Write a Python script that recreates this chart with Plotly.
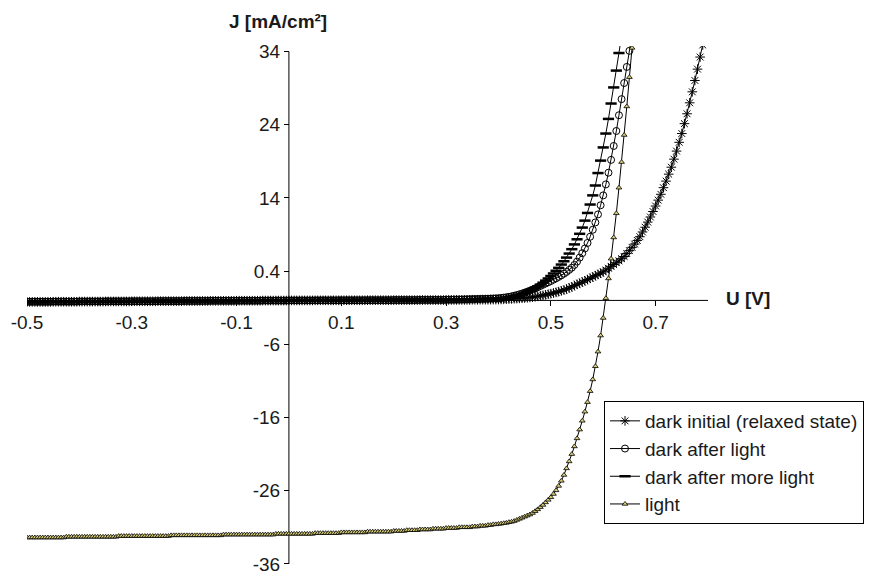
import plotly.graph_objects as go

# Voltage sweep (V), 5 mV steps
U = [
    -0.5, -0.495, -0.49, -0.485, -0.48, -0.475, -0.47, -0.465, -0.46, -0.455,
    -0.45, -0.445, -0.44, -0.435, -0.43, -0.425, -0.42, -0.415, -0.41, -0.405,
    -0.4, -0.395, -0.39, -0.385, -0.38, -0.375, -0.37, -0.365, -0.36, -0.355,
    -0.35, -0.345, -0.34, -0.335, -0.33, -0.325, -0.32, -0.315, -0.31, -0.305,
    -0.3, -0.295, -0.29, -0.285, -0.28, -0.275, -0.27, -0.265, -0.26, -0.255,
    -0.25, -0.245, -0.24, -0.235, -0.23, -0.225, -0.22, -0.215, -0.21, -0.205,
    -0.2, -0.195, -0.19, -0.185, -0.18, -0.175, -0.17, -0.165, -0.16, -0.155,
    -0.15, -0.145, -0.14, -0.135, -0.13, -0.125, -0.12, -0.115, -0.11, -0.105,
    -0.1, -0.095, -0.09, -0.085, -0.08, -0.075, -0.07, -0.065, -0.06, -0.055,
    -0.05, -0.045, -0.04, -0.035, -0.03, -0.025, -0.02, -0.015, -0.01, -0.005,
    0.0, 0.005, 0.01, 0.015, 0.02, 0.025, 0.03, 0.035, 0.04, 0.045,
    0.05, 0.055, 0.06, 0.065, 0.07, 0.075, 0.08, 0.085, 0.09, 0.095,
    0.1, 0.105, 0.11, 0.115, 0.12, 0.125, 0.13, 0.135, 0.14, 0.145,
    0.15, 0.155, 0.16, 0.165, 0.17, 0.175, 0.18, 0.185, 0.19, 0.195,
    0.2, 0.205, 0.21, 0.215, 0.22, 0.225, 0.23, 0.235, 0.24, 0.245,
    0.25, 0.255, 0.26, 0.265, 0.27, 0.275, 0.28, 0.285, 0.29, 0.295,
    0.3, 0.305, 0.31, 0.315, 0.32, 0.325, 0.33, 0.335, 0.34, 0.345,
    0.35, 0.355, 0.36, 0.365, 0.37, 0.375, 0.38, 0.385, 0.39, 0.395,
    0.4, 0.405, 0.41, 0.415, 0.42, 0.425, 0.43, 0.435, 0.44, 0.445,
    0.45, 0.455, 0.46, 0.465, 0.47, 0.475, 0.48, 0.485, 0.49, 0.495,
    0.5, 0.505, 0.51, 0.515, 0.52, 0.525, 0.53, 0.535, 0.54, 0.545,
    0.55, 0.555, 0.56, 0.565, 0.57, 0.575, 0.58, 0.585, 0.59, 0.595,
    0.6, 0.605, 0.61, 0.615, 0.62, 0.625, 0.63, 0.635, 0.64, 0.645,
    0.65, 0.655, 0.66, 0.665, 0.67, 0.675, 0.68, 0.685, 0.69, 0.695,
    0.7, 0.705, 0.71, 0.715, 0.72, 0.725, 0.73, 0.735, 0.74, 0.745,
    0.75, 0.755, 0.76, 0.765, 0.77, 0.775, 0.78, 0.785, 0.79, 0.795,
    0.8,
]

# Current density J (mA/cm2) for each measurement, one row per 50 mV
J_DARK_INITIAL = [
    -0.2, -0.2, -0.2, -0.2, -0.2, -0.2, -0.2, -0.2, -0.2, -0.2,
    -0.18, -0.18, -0.18, -0.18, -0.18, -0.18, -0.18, -0.18, -0.18, -0.18,
    -0.16, -0.16, -0.16, -0.16, -0.16, -0.16, -0.16, -0.16, -0.16, -0.16,
    -0.14, -0.14, -0.14, -0.14, -0.14, -0.14, -0.14, -0.14, -0.14, -0.14,
    -0.12, -0.12, -0.12, -0.12, -0.12, -0.12, -0.12, -0.12, -0.12, -0.12,
    -0.1, -0.1, -0.1, -0.1, -0.1, -0.1, -0.1, -0.1, -0.1, -0.1,
    -0.08, -0.08, -0.08, -0.08, -0.08, -0.08, -0.08, -0.08, -0.08, -0.08,
    -0.06, -0.06, -0.06, -0.06, -0.06, -0.06, -0.06, -0.06, -0.06, -0.06,
    -0.04, -0.04, -0.04, -0.04, -0.04, -0.04, -0.04, -0.04, -0.04, -0.04,
    -0.02, -0.02, -0.02, -0.02, -0.02, -0.02, -0.02, -0.02, -0.02, -0.02,
    0.0, 0.0, 0.0, 0.0, 0.0, 0.0, 0.0, 0.0, 0.0, 0.0,
    0.01, 0.01, 0.01, 0.01, 0.01, 0.01, 0.01, 0.01, 0.01, 0.01,
    0.02, 0.02, 0.02, 0.02, 0.02, 0.02, 0.02, 0.02, 0.02, 0.02,
    0.03, 0.03, 0.03, 0.03, 0.03, 0.03, 0.03, 0.03, 0.03, 0.03,
    0.04, 0.04, 0.04, 0.04, 0.04, 0.04, 0.04, 0.04, 0.04, 0.04,
    0.05, 0.05, 0.05, 0.05, 0.05, 0.05, 0.05, 0.05, 0.05, 0.05,
    0.07, 0.07, 0.07, 0.07, 0.07, 0.07, 0.07, 0.07, 0.07, 0.07,
    0.09, 0.09, 0.09, 0.1, 0.1, 0.1, 0.1, 0.11, 0.11, 0.11,
    0.12, 0.13, 0.15, 0.17, 0.19, 0.21, 0.23, 0.25, 0.28, 0.3,
    0.33, 0.36, 0.4, 0.45, 0.5, 0.56, 0.62, 0.69, 0.76, 0.84,
    0.92, 1.01, 1.1, 1.2, 1.3, 1.42, 1.55, 1.7, 1.85, 2.02,
    2.2, 2.35, 2.5, 2.68, 2.85, 3.02, 3.2, 3.38, 3.55, 3.72,
    3.9, 4.15, 4.4, 4.65, 4.9, 5.15, 5.4, 5.7, 6.0, 6.4,
    6.8, 7.25, 7.7, 8.2, 8.7, 9.35, 10.0, 10.7, 11.4, 12.15,
    12.9, 13.7, 14.5, 15.4, 16.3, 17.25, 18.2, 19.3, 20.4, 21.6,
    22.8, 24.15, 25.5, 27.0, 28.5, 30.05, 31.6, 33.25, 34.9, 36.6,
]

J_DARK_AFTER_LIGHT = [
    -0.18, -0.18, -0.18, -0.18, -0.18, -0.18, -0.18, -0.18, -0.18, -0.18,
    -0.16, -0.16, -0.16, -0.16, -0.16, -0.16, -0.16, -0.16, -0.16, -0.16,
    -0.14, -0.14, -0.14, -0.14, -0.14, -0.14, -0.14, -0.14, -0.14, -0.14,
    -0.12, -0.12, -0.12, -0.12, -0.12, -0.12, -0.12, -0.12, -0.12, -0.12,
    -0.11, -0.11, -0.11, -0.11, -0.11, -0.11, -0.11, -0.11, -0.11, -0.11,
    -0.09, -0.09, -0.09, -0.09, -0.09, -0.09, -0.09, -0.09, -0.09, -0.09,
    -0.07, -0.07, -0.07, -0.07, -0.07, -0.07, -0.07, -0.07, -0.07, -0.07,
    -0.05, -0.05, -0.05, -0.05, -0.05, -0.05, -0.05, -0.05, -0.05, -0.05,
    -0.04, -0.04, -0.04, -0.04, -0.04, -0.04, -0.04, -0.04, -0.04, -0.04,
    -0.02, -0.02, -0.02, -0.02, -0.02, -0.02, -0.02, -0.02, -0.02, -0.02,
    0.0, 0.0, 0.0, 0.0, 0.0, 0.0, 0.0, 0.0, 0.0, 0.0,
    0.01, 0.01, 0.01, 0.01, 0.01, 0.01, 0.01, 0.01, 0.01, 0.01,
    0.02, 0.02, 0.02, 0.02, 0.02, 0.02, 0.02, 0.02, 0.02, 0.02,
    0.03, 0.03, 0.03, 0.03, 0.03, 0.03, 0.03, 0.03, 0.03, 0.03,
    0.05, 0.05, 0.05, 0.05, 0.05, 0.05, 0.05, 0.05, 0.05, 0.05,
    0.07, 0.07, 0.07, 0.07, 0.07, 0.07, 0.07, 0.07, 0.07, 0.07,
    0.1, 0.1, 0.11, 0.11, 0.12, 0.12, 0.13, 0.14, 0.15, 0.16,
    0.17, 0.18, 0.19, 0.2, 0.21, 0.22, 0.23, 0.25, 0.26, 0.28,
    0.3, 0.34, 0.38, 0.43, 0.49, 0.56, 0.64, 0.73, 0.83, 0.94,
    1.06, 1.19, 1.33, 1.48, 1.64, 1.8, 1.97, 2.14, 2.31, 2.48,
    2.65, 2.83, 3.02, 3.22, 3.43, 3.65, 3.9, 4.17, 4.47, 4.85,
    5.3, 5.85, 6.45, 7.1, 7.85, 8.7, 9.65, 10.65, 11.75, 13.0,
    14.35, 15.85, 17.45, 19.2, 21.1, 23.15, 25.3, 27.5, 29.7, 31.9,
    34.1, 36.3,
]

J_DARK_MORE_LIGHT = [
    -0.19, -0.19, -0.19, -0.19, -0.19, -0.19, -0.19, -0.19, -0.19, -0.19,
    -0.17, -0.17, -0.17, -0.17, -0.17, -0.17, -0.17, -0.17, -0.17, -0.17,
    -0.15, -0.15, -0.15, -0.15, -0.15, -0.15, -0.15, -0.15, -0.15, -0.15,
    -0.13, -0.13, -0.13, -0.13, -0.13, -0.13, -0.13, -0.13, -0.13, -0.13,
    -0.11, -0.11, -0.11, -0.11, -0.11, -0.11, -0.11, -0.11, -0.11, -0.11,
    -0.09, -0.09, -0.09, -0.09, -0.09, -0.09, -0.09, -0.09, -0.09, -0.09,
    -0.08, -0.08, -0.08, -0.08, -0.08, -0.08, -0.08, -0.08, -0.08, -0.08,
    -0.06, -0.06, -0.06, -0.06, -0.06, -0.06, -0.06, -0.06, -0.06, -0.06,
    -0.04, -0.04, -0.04, -0.04, -0.04, -0.04, -0.04, -0.04, -0.04, -0.04,
    -0.02, -0.02, -0.02, -0.02, -0.02, -0.02, -0.02, -0.02, -0.02, -0.02,
    0.0, 0.0, 0.0, 0.0, 0.0, 0.0, 0.0, 0.0, 0.0, 0.0,
    0.01, 0.01, 0.01, 0.01, 0.01, 0.01, 0.01, 0.01, 0.01, 0.01,
    0.02, 0.02, 0.02, 0.02, 0.02, 0.02, 0.02, 0.02, 0.02, 0.02,
    0.04, 0.04, 0.04, 0.04, 0.04, 0.04, 0.04, 0.04, 0.04, 0.04,
    0.05, 0.05, 0.05, 0.05, 0.05, 0.05, 0.05, 0.05, 0.05, 0.05,
    0.07, 0.07, 0.07, 0.07, 0.07, 0.07, 0.07, 0.07, 0.07, 0.07,
    0.1, 0.1, 0.11, 0.11, 0.12, 0.12, 0.13, 0.14, 0.14, 0.15,
    0.16, 0.17, 0.17, 0.18, 0.19, 0.2, 0.21, 0.22, 0.23, 0.24,
    0.26, 0.3, 0.34, 0.39, 0.45, 0.52, 0.6, 0.69, 0.79, 0.9,
    1.02, 1.16, 1.32, 1.5, 1.7, 1.92, 2.16, 2.42, 2.7, 3.0,
    3.33, 3.68, 4.05, 4.45, 4.9, 5.35, 5.85, 6.4, 7.0, 7.65,
    8.35, 9.1, 9.95, 10.9, 11.95, 13.1, 14.35, 15.7, 17.4, 19.1,
    20.9, 22.8, 24.8, 26.9, 29.1, 31.4, 33.8, 36.2,
]

J_LIGHT = [
    -32.4, -32.4, -32.4, -32.4, -32.4, -32.4, -32.4, -32.4, -32.4, -32.4,
    -32.4, -32.4, -32.4, -32.4, -32.4, -32.3, -32.3, -32.3, -32.3, -32.3,
    -32.3, -32.3, -32.3, -32.3, -32.3, -32.3, -32.3, -32.3, -32.3, -32.3,
    -32.3, -32.3, -32.3, -32.3, -32.3, -32.2, -32.2, -32.2, -32.2, -32.2,
    -32.2, -32.2, -32.2, -32.2, -32.2, -32.2, -32.2, -32.2, -32.2, -32.2,
    -32.2, -32.2, -32.2, -32.2, -32.2, -32.1, -32.1, -32.1, -32.1, -32.1,
    -32.1, -32.1, -32.1, -32.1, -32.1, -32.1, -32.1, -32.1, -32.1, -32.1,
    -32.1, -32.1, -32.1, -32.1, -32.1, -32.0, -32.0, -32.0, -32.0, -32.0,
    -32.0, -32.0, -32.0, -32.0, -32.0, -32.0, -32.0, -32.0, -32.0, -32.0,
    -32.0, -32.0, -32.0, -32.0, -32.0, -31.9, -31.9, -31.9, -31.9, -31.9,
    -31.9, -31.9, -31.9, -31.9, -31.9, -31.9, -31.9, -31.9, -31.9, -31.9,
    -31.8, -31.8, -31.8, -31.8, -31.8, -31.8, -31.8, -31.8, -31.8, -31.8,
    -31.7, -31.7, -31.7, -31.7, -31.7, -31.7, -31.7, -31.7, -31.7, -31.7,
    -31.6, -31.6, -31.6, -31.6, -31.6, -31.6, -31.6, -31.6, -31.6, -31.6,
    -31.5, -31.5, -31.5, -31.5, -31.5, -31.4, -31.4, -31.4, -31.4, -31.4,
    -31.3, -31.3, -31.3, -31.3, -31.3, -31.2, -31.2, -31.2, -31.2, -31.2,
    -31.1, -31.1, -31.1, -31.1, -31.1, -31.0, -31.0, -31.0, -31.0, -31.0,
    -30.9, -30.9, -30.9, -30.8, -30.8, -30.8, -30.7, -30.7, -30.6, -30.6,
    -30.55, -30.5, -30.45, -30.4, -30.3, -30.25, -30.15, -30.0, -29.85, -29.7,
    -29.55, -29.4, -29.25, -29.05, -28.8, -28.55, -28.25, -27.95, -27.6, -27.25,
    -26.9, -26.45, -25.95, -25.35, -24.65, -23.85, -22.95, -22.0, -21.0, -19.95,
    -18.85, -17.65, -16.45, -15.2, -13.9, -12.4, -10.8, -9.0, -7.0, -4.8,
    -2.4, 0.3, 3.0, 5.7, 8.6, 11.9, 15.4, 18.9, 22.6, 26.5,
    30.5, 34.5, 38.5,
]

SERIES_NAMES = [
    "dark initial (relaxed state)",
    "dark after light",
    "dark after more light",
    "light",
]

X_TICKS = [-0.5, -0.3, -0.1, 0.1, 0.3, 0.5, 0.7]
X_TICK_TEXT = ["-0.5", "-0.3", "-0.1", "0.1", "0.3", "0.5", "0.7"]
Y_TICKS = [-36, -26, -16, -6, 4, 14, 24, 34]
Y_TICK_TEXT = ["-36", "-26", "-16", "-6", "0.4", "14", "24", "34"]

X_RANGE = [-0.5, 0.8]
Y_RANGE = [-36.15, 34.76]

FONT = "Liberation Sans, Arial, Helvetica, sans-serif"
INK = "#1a1a1a"

# plot area in pixels
PLOT_L, PLOT_R, PLOT_T, PLOT_B = 27, 708, 46, 565


def curve(name, J, symbol, size, fill, stroke):
    n = len(J)
    return go.Scatter(
        x=U[:n], y=J, name=name,
        mode="lines+markers",
        line=dict(color="black", width=1),
        marker=dict(symbol=symbol, size=size, color=fill,
                    line=dict(color="black", width=stroke)),
    )


def px_x(p):
    return (p - PLOT_L) / (PLOT_R - PLOT_L)


def px_y(p):
    return (PLOT_B - p) / (PLOT_B - PLOT_T)


fig = go.Figure()
fig.add_trace(curve(SERIES_NAMES[0], J_DARK_INITIAL, "asterisk-open", 8, "black", 1))
fig.add_trace(curve(SERIES_NAMES[1], J_DARK_AFTER_LIGHT, "circle-open", 7, "black", 1))
fig.add_trace(curve(SERIES_NAMES[2], J_DARK_MORE_LIGHT, "line-ew-open", 8, "black", 2.5))
fig.add_trace(curve(SERIES_NAMES[3], J_LIGHT, "triangle-up", 5, "#d9cf78", 0.8))

x_cross = (0 - X_RANGE[0]) / (X_RANGE[1] - X_RANGE[0])
y_cross = (0 - Y_RANGE[0]) / (Y_RANGE[1] - Y_RANGE[0])

axis_style = dict(
    tickmode="array", ticks="outside", ticklen=5, tickwidth=1, tickcolor="black",
    ticklabeloverflow="allow", automargin=False,
    showline=False, showgrid=False, zeroline=False,
)

fig.update_layout(
    width=871, height=574,
    margin=dict(l=PLOT_L, r=871 - PLOT_R, t=PLOT_T, b=574 - PLOT_B, autoexpand=False),
    paper_bgcolor="white", plot_bgcolor="white",
    font=dict(family=FONT, size=19, color=INK),
    xaxis=dict(range=X_RANGE, anchor="free", position=y_cross,
               tickvals=X_TICKS, ticktext=X_TICK_TEXT, **axis_style),
    yaxis=dict(range=Y_RANGE, anchor="free", position=x_cross,
               tickvals=Y_TICKS, ticktext=Y_TICK_TEXT, **axis_style),
    legend=dict(
        x=px_x(604), y=px_y(401),
        xanchor="left", yanchor="top",
        bgcolor="white", bordercolor="black", borderwidth=1,
        font=dict(family=FONT, size=19, color=INK),
    ),
    shapes=[
        dict(type="line", xref="x", yref="y", x0=X_RANGE[0], x1=X_RANGE[1], y0=0, y1=0,
             line=dict(color="black", width=1), layer="below"),
        dict(type="line", xref="x", yref="y", x0=0, x1=0, y0=Y_TICKS[0], y1=Y_TICKS[-1],
             line=dict(color="black", width=1), layer="below"),
    ],
    annotations=[
        dict(text="<b>J [mA/cm²]</b>", xref="paper", yref="paper", x=px_x(277.5), y=px_y(21.5),
             xanchor="center", yanchor="middle", showarrow=False,
             font=dict(family=FONT, size=19, color=INK)),
        dict(text="<b>U [V]</b>", xref="paper", yref="paper", x=px_x(748.5), y=px_y(298),
             xanchor="center", yanchor="middle", showarrow=False,
             font=dict(family=FONT, size=19, color=INK)),
    ],
)

fig.write_html("out.html")
